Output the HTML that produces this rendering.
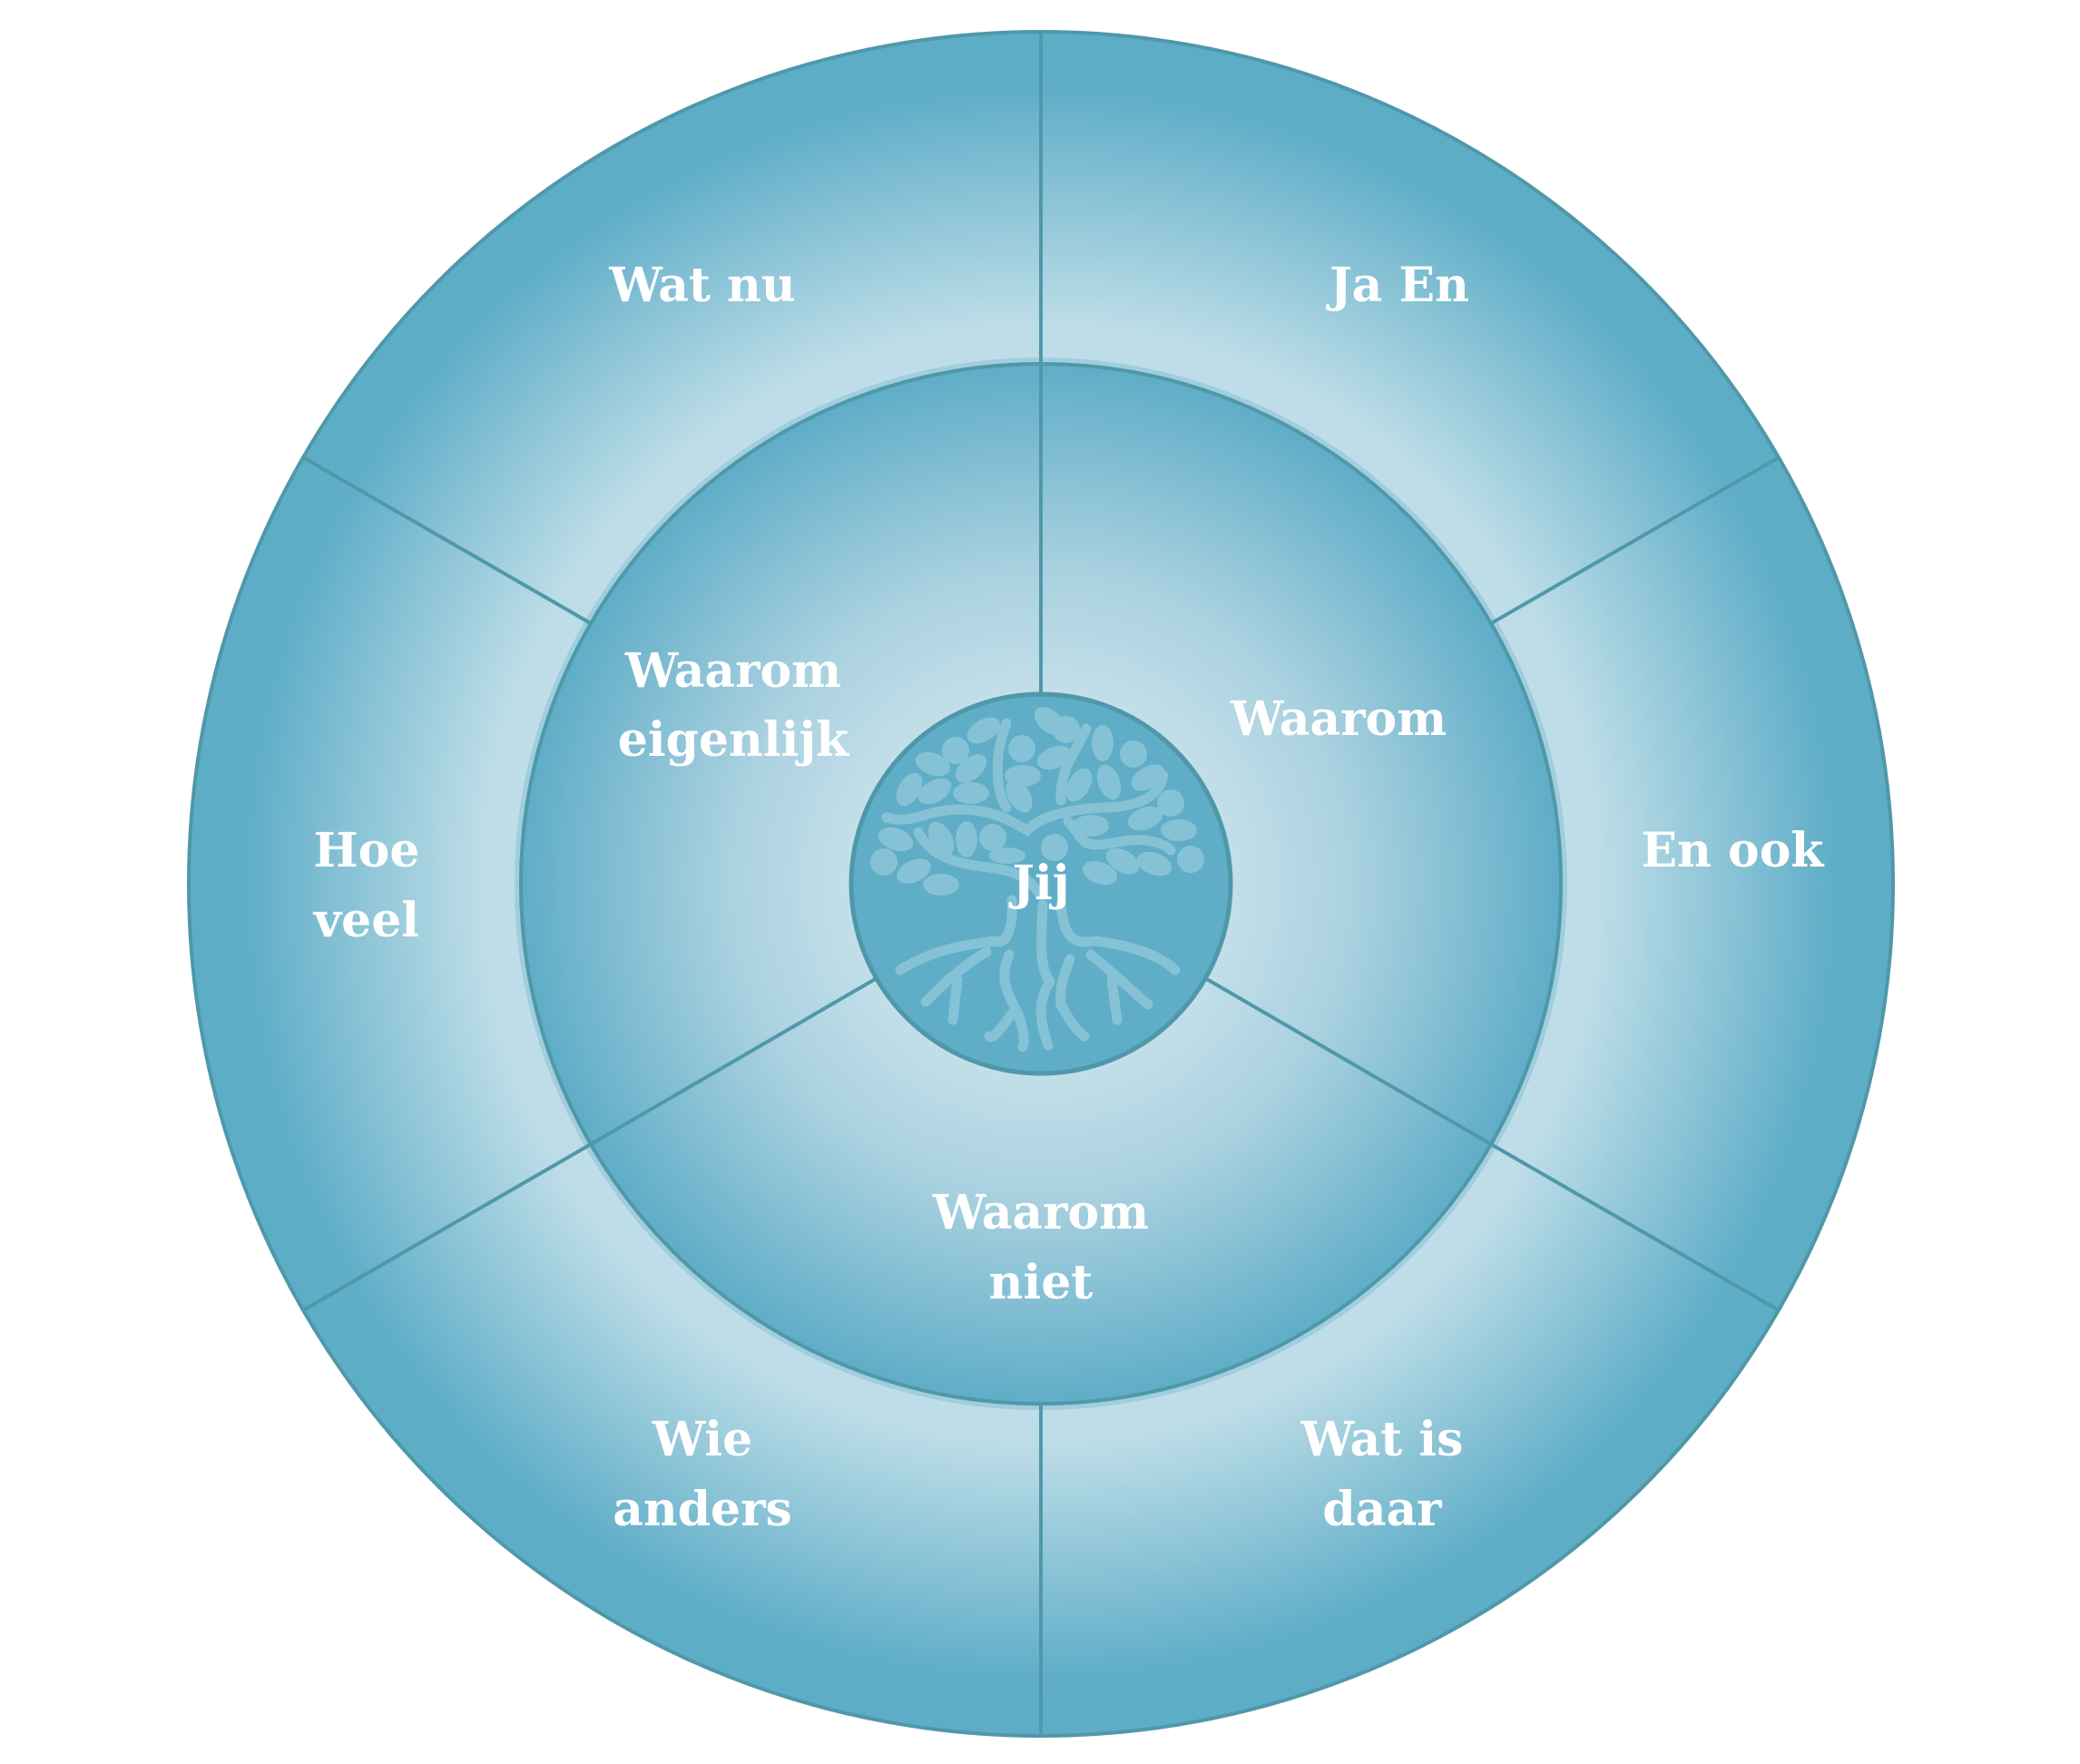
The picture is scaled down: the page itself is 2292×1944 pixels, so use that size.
<!DOCTYPE html>
<html><head><meta charset="utf-8"><style>
html,body{margin:0;padding:0;background:#fff;}
svg{display:block;}
text{font-family:"DejaVu Serif","Liberation Serif",serif;font-weight:bold;fill:#fff;text-anchor:middle;}
</style></head><body>
<svg width="2292" height="1944" viewBox="0 0 2292 1944" xmlns="http://www.w3.org/2000/svg">
<defs>
<radialGradient id="go" cx="1147" cy="974" r="939" gradientUnits="userSpaceOnUse">
<stop offset="0.6" stop-color="#c0dee9"/>
<stop offset="0.66" stop-color="#bcdce7"/>
<stop offset="0.93" stop-color="#60aec8"/>
<stop offset="1" stop-color="#5eadc7"/>
</radialGradient>
<radialGradient id="gm" cx="1147" cy="974" r="573" gradientUnits="userSpaceOnUse">
<stop offset="0.36" stop-color="#c3dfe9"/>
<stop offset="0.6" stop-color="#aad1e0"/>
<stop offset="1" stop-color="#5fadc7"/>
</radialGradient>
</defs>
<circle cx="1147" cy="974" r="939" fill="url(#go)" stroke="#4f98aa" stroke-width="4"/>
<circle cx="1147" cy="974" r="577" fill="none" stroke="#8cc3d6" stroke-width="6" opacity="0.6"/>
<circle cx="1147" cy="974" r="573" fill="url(#gm)" stroke="#4f98aa" stroke-width="4"/>
<g stroke="#4f98aa" stroke-width="4">
<line x1="1147" y1="401" x2="1147" y2="35"/>
<line x1="1147" y1="1547" x2="1147" y2="1913"/>
<line x1="1643" y1="687" x2="1960" y2="504"/>
<line x1="651" y1="687" x2="334" y2="504"/>
<line x1="1643" y1="1261" x2="1960" y2="1444"/>
<line x1="651" y1="1261" x2="334" y2="1444"/>
<line x1="1147" y1="765" x2="1147" y2="401"/>
<line x1="966" y1="1078" x2="651" y2="1261"/>
<line x1="1328" y1="1078" x2="1643" y2="1261"/>
</g>
<circle cx="1147" cy="974" r="209" fill="#5fadc7" stroke="#4f98aa" stroke-width="5"/>
<g transform="translate(-3,-3)">
<g fill="none" stroke="#86c2d6" stroke-width="11" stroke-linecap="round">
<path d="M980 904 C1010 912 1020 896 1060 895 C1100 895 1120 910 1135 918 C1150 902 1180 895 1220 893 C1260 892 1280 880 1285 858"/>
<path d="M1015 920 C1030 950 1060 955 1100 960 C1130 965 1140 975 1150 990"/>
<path d="M1180 908 C1200 930 1190 940 1240 930 C1270 925 1290 935 1293 940"/>
<path d="M1112 800 C1100 830 1098 870 1112 893"/>
<path d="M1200 806 C1190 830 1170 850 1172 885"/>
<path d="M1118 995 C1120 1030 1110 1045 1100 1040 C1060 1045 1030 1050 995 1072"/>
<path d="M1152 1000 C1150 1040 1148 1070 1160 1085"/>
<path d="M1172 1000 C1175 1035 1185 1045 1210 1040 C1250 1045 1280 1055 1298 1072"/>
<path d="M1090 1052 C1060 1070 1040 1090 1023 1107"/>
<path d="M1115 1055 C1105 1080 1110 1090 1122 1115 C1110 1130 1098 1150 1093 1145"/>
<path d="M1122 1115 C1130 1130 1133 1150 1130 1157"/>
<path d="M1160 1085 C1150 1100 1145 1120 1158 1155"/>
<path d="M1182 1060 C1175 1080 1170 1090 1172 1110 C1180 1125 1190 1140 1198 1145"/>
<path d="M1205 1055 C1230 1075 1250 1095 1268 1110"/>
<path d="M1058 1083 L1053 1127"/>
<path d="M1228 1083 L1234 1127"/>
</g>
<g fill="#86c2d6">
<circle cx="1056" cy="830" r="15"/><circle cx="1129" cy="828" r="15"/><circle cx="1178" cy="807" r="15"/>
<circle cx="1252" cy="834" r="15"/><circle cx="1293" cy="888" r="15"/><circle cx="977" cy="953" r="15"/>
<circle cx="1097" cy="926" r="15"/><circle cx="1315" cy="950" r="15"/><circle cx="1165" cy="937" r="15"/>
<ellipse cx="1087" cy="808" rx="20" ry="12" transform="rotate(-30 1087 808)"/>
<ellipse cx="1160" cy="798" rx="20" ry="12" transform="rotate(40 1160 798)"/>
<ellipse cx="1031" cy="845" rx="20" ry="12" transform="rotate(20 1031 845)"/>
<ellipse cx="1073" cy="850" rx="20" ry="12" transform="rotate(-40 1073 850)"/>
<ellipse cx="1130" cy="858" rx="20" ry="12"/>
<ellipse cx="1165" cy="838" rx="20" ry="12" transform="rotate(-20 1165 838)"/>
<ellipse cx="1218" cy="822" rx="12" ry="20"/>
<ellipse cx="1225" cy="865" rx="12" ry="20" transform="rotate(-20 1225 865)"/>
<ellipse cx="1268" cy="860" rx="20" ry="12" transform="rotate(-30 1268 860)"/>
<ellipse cx="1005" cy="873" rx="12" ry="20" transform="rotate(30 1005 873)"/>
<ellipse cx="1033" cy="875" rx="20" ry="12" transform="rotate(-30 1033 875)"/>
<ellipse cx="1073" cy="877" rx="20" ry="12"/>
<ellipse cx="1126" cy="880" rx="12" ry="20" transform="rotate(-30 1126 880)"/>
<ellipse cx="1192" cy="868" rx="12" ry="20" transform="rotate(30 1192 868)"/>
<ellipse cx="1265" cy="905" rx="20" ry="12" transform="rotate(-20 1265 905)"/>
<ellipse cx="1205" cy="913" rx="20" ry="12"/>
<ellipse cx="1302" cy="918" rx="20" ry="12"/>
<ellipse cx="990" cy="928" rx="20" ry="12" transform="rotate(20 990 928)"/>
<ellipse cx="1040" cy="927" rx="12" ry="20" transform="rotate(-30 1040 927)"/>
<ellipse cx="1068" cy="928" rx="12" ry="20"/>
<ellipse cx="1010" cy="963" rx="20" ry="12" transform="rotate(-25 1010 963)"/>
<ellipse cx="1040" cy="978" rx="20" ry="12"/>
<ellipse cx="1113" cy="946" rx="20" ry="9"/>
<ellipse cx="1215" cy="965" rx="20" ry="12" transform="rotate(20 1215 965)"/>
<ellipse cx="1240" cy="952" rx="20" ry="12" transform="rotate(30 1240 952)"/>
<ellipse cx="1275" cy="955" rx="20" ry="12" transform="rotate(20 1275 955)"/>
</g>
</g>
<g font-size="52">
<text x="774" y="332">Wat nu</text>
<text x="1542" y="332">Ja En</text>
<text x="404" y="955">Hoe</text>
<text x="404" y="1032">veel</text>
<text x="1909" y="955">En ook</text>
<text x="774" y="1604">Wie</text>
<text x="774" y="1681">anders</text>
<text x="1523" y="1604">Wat is</text>
<text x="1523" y="1681">daar</text>
<text x="808" y="757">Waarom</text>
<text x="808" y="833">eigenlijk</text>
<text x="1475" y="810">Waarom</text>
<text x="1147" y="1354">Waarom</text>
<text x="1147" y="1431">niet</text>
<text x="1147" y="991">Jij</text>
</g>
</svg>
</body></html>
